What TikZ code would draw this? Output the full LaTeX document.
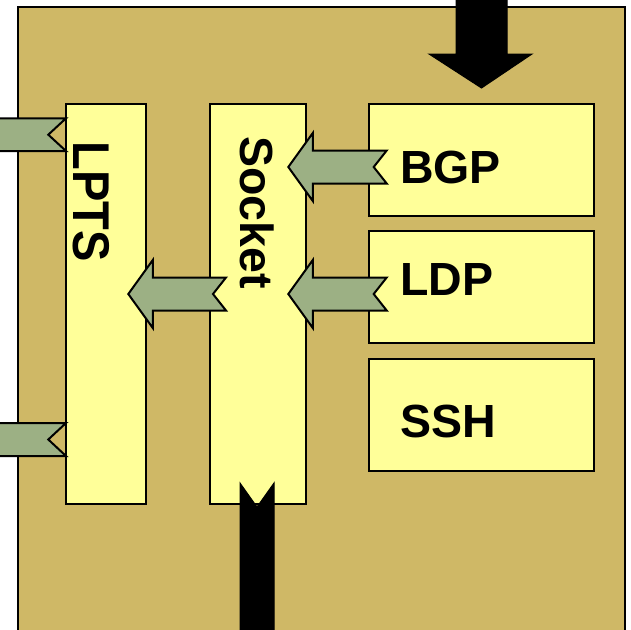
\documentclass[tikz,border=0pt]{standalone}
\usepackage{fontspec}
\setmainfont{Liberation Sans}
\definecolor{tanbg}{RGB}{207,184,102}
\definecolor{boxyellow}{RGB}{255,255,153}
\definecolor{arrowgreen}{RGB}{156,176,132}
\tikzset{
  box/.style={draw=black, line width=2.2pt, fill=boxyellow, anchor=north west, inner sep=0pt},
  lbl/.style={inner sep=0pt, anchor=base west, font=\bfseries\fontsize{46.5}{50}\selectfont},
  vlbl/.style={lbl, rotate=-90},
  greenarrow/.style={draw=black, line width=2pt, fill=arrowgreen, line join=miter},
  blackarrow/.style={fill=black, draw=black, line width=1pt},
  larrow/.pic={
    \path[greenarrow] (0,0) -- (24.5,-34) -- (24.5,-16.5) -- (#1,-16.5) -- ({#1-13},0)
      -- (#1,16.5) -- (24.5,16.5) -- (24.5,34) -- cycle;
  }
}
\begin{document}
\begin{tikzpicture}[x=1pt,y=-1pt]
\useasboundingbox (0,0) rectangle (631,629);
\clip (0,0) rectangle (631,629);
\fill[white] (0,0) rectangle (631,629);
% outer frame
\node[draw=black, line width=2.2pt, fill=tanbg, anchor=north west, inner sep=0pt,
      minimum width=607pt, minimum height=660pt] (frame) at (17,6) {};
% top incoming black arrow
\path[blackarrow] (456,-10) -- (507,-10) -- (507,54) -- (532,54) -- (481.5,88)
  -- (429,54) -- (456,54) -- cycle;
% boxes
\node[box, minimum width=80pt, minimum height=400pt] (lpts) at (65,103) {};
\node[box, minimum width=96pt, minimum height=400pt] (socket) at (209,103) {};
\node[box, minimum width=225pt, minimum height=112pt] (bgp) at (368,103) {};
\node[box, minimum width=225pt, minimum height=112pt] (ldp) at (368,230) {};
\node[box, minimum width=225pt, minimum height=112pt] (ssh) at (368,358) {};
% labels
\node[vlbl] (lptsl) at (73.3,141.6) {\fontsize{47}{50}\selectfont\scalebox{1}[1.1]{LPTS}};
\node[vlbl] (socketl) at (240.5,136) {Socket};
\node[lbl] (bgpl) at (400,183.3) {BGP};
\node[lbl] (ldpl) at (400,295) {LDP};
\node[lbl] (sshl) at (400,437.8) {SSH};
% left arrows leaving LPTS
\path[greenarrow] (-20,118.3) -- (66,118.3) -- (48.3,134.7) -- (66,151) -- (-20,151) -- cycle;
\path[greenarrow] (-20,423) -- (66,423) -- (48.3,439.5) -- (66,456) -- (-20,456) -- cycle;
% internal arrows
\pic at (288.3,167) {larrow=98.4};
\pic at (288.3,294) {larrow=98.4};
\pic at (128.3,294) {larrow=97.7};
% bottom black arrow
\path[blackarrow] (240,483) -- (257,507) -- (274,483) -- (274,650) -- (240,650) -- cycle;
\end{tikzpicture}
\end{document}
